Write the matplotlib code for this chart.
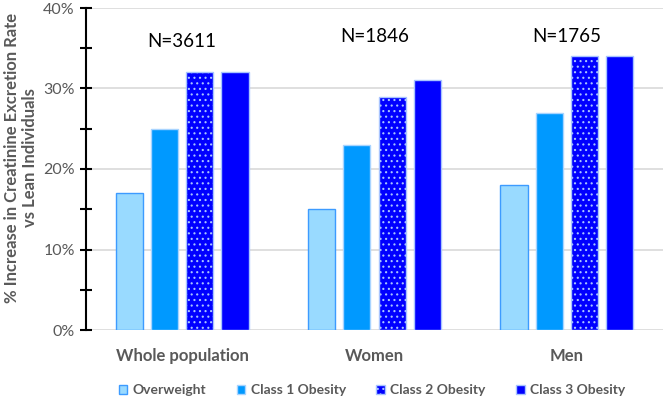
import numpy as np
import matplotlib.pyplot as plt
from matplotlib.ticker import MultipleLocator, FuncFormatter

groups = ['Whole population', 'Women', 'Men']
n_labels = ['N=3611', 'N=1846', 'N=1765']
series = ['Overweight', 'Class 1 Obesity', 'Class 2 Obesity', 'Class 3 Obesity']
overweight = [17, 15, 18]
class1 = [25, 23, 27]
class2 = [32, 29, 34]
class3 = [32, 31, 34]

values = [overweight, class1, class2, class3]
faces = ['#99DAFF', '#0099FF', '#0000FF', '#0000FF']
edges = ['#3D9BFF', '#A8D4FF', '#A8C4FF', '#A8C4FF']
hatches = [None, None, '...', None]

plt.rcParams['font.family'] = ['Lato', 'DejaVu Sans']
plt.rcParams['hatch.color'] = 'white'
plt.rcParams['hatch.linewidth'] = 0.8

fig = plt.figure(figsize=(6.63, 4.0), dpi=100)
ax = fig.add_axes([86/663, 70/400, 577/663, 322/400])

x = np.arange(len(groups))
w = 0.141
step = 0.183
for i, vals in enumerate(values):
    off = (i - 1.5) * step
    ax.bar(x + off, vals, w, color=faces[i], edgecolor=edges[i], linewidth=1.0,
           hatch=hatches[i], label=series[i], zorder=3)

n_y = [35.9, 36.4, 36.4]
for i, t in enumerate(n_labels):
    ax.text(x[i], n_y[i], t, ha='center', va='center', fontsize=13.5, color='black')

ax.set_xlim(-0.5, 2.5)
ax.set_ylim(0, 40)
ax.yaxis.set_major_locator(MultipleLocator(10))
ax.yaxis.set_minor_locator(MultipleLocator(5))
ax.yaxis.set_major_formatter(FuncFormatter(lambda v, p: f'{v:.0f}%'))
ax.grid(axis='y', color='#d9d9d9', linewidth=1.2, zorder=0)
ax.set_axisbelow(True)

for s in ['top', 'right', 'bottom']:
    ax.spines[s].set_visible(False)
ax.spines['left'].set_linewidth(1.5)
ax.spines['left'].set_color('black')
ax.tick_params(axis='y', which='both', direction='inout', length=8, width=1.5,
               colors='black', labelcolor='#595959', labelsize=11.5, pad=4)
ax.tick_params(axis='x', length=0, pad=13)
ax.set_xticks(x)
ax.set_xticklabels(groups, fontsize=12, fontweight='bold', color='#595959')

ax.set_ylabel('% Increase in Creatinine Excretion Rate\nvs Lean Individuals',
              fontsize=12, fontweight='bold', color='#595959')
ax.yaxis.set_label_coords(-0.083, 0.535)

ax.legend(loc='center', bbox_to_anchor=(372/663, 10/400), bbox_transform=fig.transFigure,
          ncol=4, frameon=False,
          prop={'weight': 'bold', 'size': 10}, labelcolor='#595959',
          handlelength=0.6, handleheight=0.6, handletextpad=0.4, columnspacing=2.2)

fig.savefig('out.png', dpi=100)
